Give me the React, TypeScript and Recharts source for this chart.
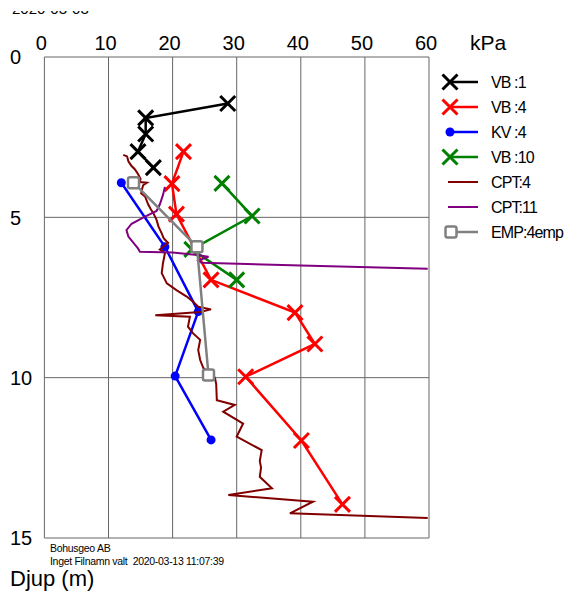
import React from "react";
import { ScatterChart, Scatter, XAxis, YAxis, CartesianGrid } from "recharts";

const kpaTicks = [0, 10, 20, 30, 40, 50, 60];
const depthTicks = [0, 5, 10, 15];

// VB = vingborrning, KV = kolv, CPT = sondering, EMP = empirisk
const vb1Kpa = [28.6, 15.8, 15.8, 14.6, 17.0];
const vb1Depth = [1.45, 1.9, 2.4, 2.95, 3.45];

const vb4Kpa = [21.7, 19.9, 20.6, 26.0, 39.1, 42.2, 31.4, 40.1, 46.5];
const vb4Depth = [2.95, 3.95, 4.9, 6.95, 7.97, 8.95, 9.97, 11.96, 13.95];

const kv4Kpa = [12.0, 18.8, 24.0, 20.4, 26.0];
const kv4Depth = [3.92, 5.92, 7.94, 9.95, 11.94];

const vb10Kpa = [27.7, 32.4, 23.0, 30.0];
const vb10Depth = [3.94, 4.96, 6.0, 6.95];

const cpt4Kpa = [
  12.3, 12.9, 13.1, 13.6, 14.1, 14.6, 15.0, 14.9, 16.0, 15.4, 15.2, 15.1, 15.7, 16.2, 16.6, 17.0,
  17.5, 17.8, 18.3, 18.6, 19.3, 18.0, 18.8, 18.5, 18.3, 19.1, 20.6, 22.2, 23.2, 24.0, 26.0, 24.3,
  17.3, 22.7, 22.4, 23.2, 24.3, 24.0, 24.3, 24.8, 26.6, 26.8, 26.9, 29.7, 27.9, 31.0, 30.0, 33.9,
  33.6, 33.8, 33.6, 35.5, 28.7, 41.9, 38.3, 46.1, 59.8,
];
const cpt4Depth = [
  3.05, 3.1, 3.25, 3.4, 3.5, 3.65, 3.8, 3.9, 3.92, 4.0, 4.15, 4.25, 4.35, 4.6, 4.75, 4.87,
  5.08, 5.29, 5.5, 5.65, 5.8, 6.0, 6.12, 6.43, 6.74, 7.06, 7.27, 7.47, 7.63, 7.79, 7.87, 7.95,
  8.05, 8.1, 8.41, 8.62, 8.82, 9.14, 9.45, 9.7, 10.0, 10.2, 10.7, 10.85, 11.06, 11.43, 11.84, 12.26,
  12.6, 12.8, 13.09, 13.45, 13.66, 13.87, 14.23, 14.28, 14.38,
];

const cpt11Kpa = [18.8, 18.5, 18.0, 17.5, 15.7, 13.6, 12.8, 13.1, 14.6, 14.9, 20.0, 23.5, 25.6, 24.0, 24.5, 40.0, 59.8];
const cpt11Depth = [4.05, 4.3, 4.6, 4.8, 4.98, 5.2, 5.4, 5.6, 5.97, 6.07, 6.1, 6.17, 6.23, 6.35, 6.42, 6.5, 6.6];

const empKpa = [13.9, 23.8, 25.6];
const empDepth = [3.92, 5.92, 9.92];

const zip = (xs: number[], ds: number[]) => xs.map((v, i) => ({ v, d: ds[i] }));

const FONT = "'Liberation Sans', Arial, sans-serif";

const cross = (color: string) => (props: any) => {
  const { cx, cy } = props;
  const s = 7.5;
  return (
    <path
      d={`M${cx - s},${cy - s}L${cx + s},${cy + s}M${cx + s},${cy - s}L${cx - s},${cy + s}`}
      stroke={color}
      strokeWidth={3}
      fill="none"
    />
  );
};
const dot = (color: string) => (props: any) => <circle cx={props.cx} cy={props.cy} r={4.5} fill={color} />;
const square = (color: string) => (props: any) => (
  <rect x={props.cx - 5.5} y={props.cy - 5.5} width={11} height={11} rx={2} fill="#fff" stroke={color} strokeWidth={2.5} />
);
const none = () => <g />;

const series = [
  { name: "VB :1", color: "#000000", data: zip(vb1Kpa, vb1Depth), shape: cross, width: 2.5, mark: "x" },
  { name: "VB :4", color: "#ff0000", data: zip(vb4Kpa, vb4Depth), shape: cross, width: 2.5, mark: "x" },
  { name: "KV :4", color: "#0000ff", data: zip(kv4Kpa, kv4Depth), shape: dot, width: 2.5, mark: "o" },
  { name: "VB :10", color: "#008000", data: zip(vb10Kpa, vb10Depth), shape: cross, width: 2.5, mark: "x" },
  { name: "CPT:4", color: "#800000", data: zip(cpt4Kpa, cpt4Depth), shape: () => none, width: 2, mark: "" },
  { name: "CPT:11", color: "#800080", data: zip(cpt11Kpa, cpt11Depth), shape: () => none, width: 2, mark: "" },
  { name: "EMP:4emp", color: "#808080", data: zip(empKpa, empDepth), shape: square, width: 2.5, mark: "s" },
];

const XTick = (props: any) => (
  <text x={props.x - 3} y={50} textAnchor="middle" fontSize={20} fontFamily={FONT} fill="#000">
    {props.payload.value}
  </text>
);
const YTick = (props: any) => (
  <text x={10} y={props.y} dy="0.36em" textAnchor="start" fontSize={20} fontFamily={FONT} fill="#000">
    {props.payload.value}
  </text>
);

const LegendBox = () => (
  <svg width={130} height={180} style={{ position: "absolute", left: 440, top: 70 }}>
    {series.map((s, i) => {
      const y = 12 + i * 25;
      return (
        <g key={s.name}>
          <line x1={s.mark ? 10 : 8} x2={38} y1={y} y2={y} stroke={s.color} strokeWidth={s.width} />
          {s.mark === "x" && cross(s.color)({ cx: 10, cy: y })}
          {s.mark === "o" && dot(s.color)({ cx: 10, cy: y })}
          {s.mark === "s" && square(s.color)({ cx: 11, cy: y })}
          <text x={51} y={y} dy="0.36em" fontSize={16} fontFamily={FONT} fill="#000" letterSpacing={-0.9}>
            {s.name}
          </text>
        </g>
      );
    })}
  </svg>
);

export default function App() {
  return (
    <div style={{ position: "absolute", left: 0, top: 0, width: 570, height: 593, background: "#fff", fontFamily: FONT }}>
      <div style={{ position: "absolute", left: 12, top: 11, height: 6, overflow: "hidden", width: 120 }}>
        <div style={{ position: "absolute", top: -11, left: 0, fontSize: 15, lineHeight: "17px", whiteSpace: "nowrap" }}>
          2020-03-03
        </div>
      </div>
      <ScatterChart width={570} height={593} margin={{ top: 27, right: 141, left: 0, bottom: 55 }}>
        <CartesianGrid stroke="#666" strokeWidth={1} />
        <XAxis
          type="number"
          dataKey="v"
          orientation="top"
          domain={[0, 60]}
          ticks={kpaTicks}
          height={30}
          axisLine={false}
          tickLine={false}
          tick={<XTick />}
          allowDataOverflow
        />
        <YAxis
          type="number"
          dataKey="d"
          domain={[0, 15]}
          reversed
          ticks={depthTicks}
          width={44.4}
          axisLine={false}
          tickLine={false}
          tick={<YTick />}
          allowDataOverflow
        />
        {series.map((s) => (
          <Scatter
            key={s.name}
            name={s.name}
            data={s.data}
            line={{ stroke: s.color, strokeWidth: s.width }}
            lineType="joint"
            shape={s.shape(s.color)}
            isAnimationActive={false}
          />
        ))}
      </ScatterChart>
      <div style={{ position: "absolute", left: 470, top: 31, fontSize: 21, lineHeight: "24px" }}>kPa</div>
      <LegendBox />
      <div style={{ position: "absolute", left: 50, top: 542, fontSize: 10.5, lineHeight: "13px", letterSpacing: -0.3 }}>
        Bohusgeo AB
        <br />
        Inget Filnamn valt&nbsp; 2020-03-13 11:07:39
      </div>
      <div style={{ position: "absolute", left: 10, top: 566, fontSize: 22, lineHeight: "26px" }}>Djup (m)</div>
    </div>
  );
}
